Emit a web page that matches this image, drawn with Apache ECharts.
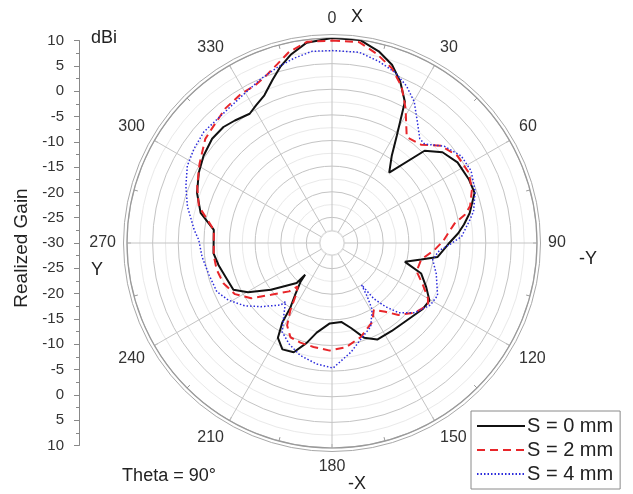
<!DOCTYPE html>
<html>
<head>
<meta charset="utf-8">
<script src="https://cdn.jsdelivr.net/npm/echarts@6/dist/echarts.min.js"></script>
<style>
html,body{margin:0;padding:0;background:#fff}
#main{width:633px;height:494px}
</style>
</head>
<body>
<div id="main"></div>
<script>
// 角度刻度 / 半径刻度
var angleLabels = [0, 30, 60, 90, 120, 150, 180, 210, 240, 270, 300, 330];
var gainMin = -30, gainMax = 10;

// S = 0 mm
var s0Angle = [0, 7.8, 13.7, 18.6, 22.9, 27.3, 31.1, 34.4, 39.1, 45.1, 50.6, 57.3, 65, 70.6, 77.7, 82, 85.6, 90.5, 97.5, 100.5, 104.5, 108.9, 115.1, 120.6, 126, 132.9, 145.8, 154.9, 161.3, 167.4, 173.3, 181.6, 189.7, 194.2, 199.3, 205, 209.7, 212, 212.8, 215.7, 219, 220.3, 221.5, 232.6, 239.6, 244.6, 251.3, 258.9, 265, 271.5, 276.3, 282.9, 290.4, 297.9, 304.2, 311, 316.9, 321.6, 327.5, 331.2, 335.4, 340, 343.8, 347.6, 352.8, 360];
var s0Gain = [10, 10, 8.5, 6.7, 4.2, 1.0, -5.5, -9.35, -12.3, -4.5, -2.1, -0.9, -0.55, -0.5, -2.5, -4.0, -5.3, -7.3, -9.2, -12.3, -15.3, -11.6, -9.7, -7.9, -8.1, -8.8, -9.25, -9.2, -10.5, -13.0, -14.5, -14.3, -12.25, -9.9, -7.4, -7.1, -8.7, -11.7, -15.0, -17.8, -20.2, -21.9, -19.6, -15.0, -11.0, -8.7, -8.3, -7.45, -6.8, -6.9, -6.8, -3.7, -1.9, -0.6, 0.3, 1.0, 1.0, 0.5, -0.1, 0.7, 1.7, 3.9, 5.9, 7.6, 9.4, 10];

// S = 2 mm
var s2Angle = [0, 7.7, 13.4, 18.9, 24, 28.7, 35.2, 42.3, 48.2, 55.2, 62.7, 69, 75, 78, 81, 85, 89, 94, 100.5, 108.5, 114.7, 119.9, 122.9, 130.1, 137.3, 142.2, 148, 153, 163, 172.3, 181.2, 190.1, 197.6, 203.8, 208.6, 211.8, 214.3, 218.3, 221.5, 229.7, 235.6, 242.2, 249.7, 257, 264.1, 276.3, 285.4, 292.9, 300.8, 309.4, 314.8, 321.5, 328.8, 333.8, 338.5, 343, 347.3, 352.9, 360];
var s2Gain = [9.5, 9.55, 7.9, 6.05, 3.4, -0.1, -4.7, -4.1, -1.5, -0.2, 0.0, -0.75, -2.1, -3.5, -5.8, -7.2, -8.3, -10.0, -12.3, -12.6, -10.5, -8.4, -7.7, -8.9, -10.9, -13.0, -14.6, -12.7, -10.8, -9.5, -9.0, -9.4, -9.6, -9.9, -11.7, -14.6, -17.3, -19.2, -17.4, -14.4, -10.9, -8.6, -7.4, -6.9, -6.8, -6.8, -3.05, -1.45, 0.1, 2.0, 2.5, 3.5, 4.1, 4.2, 5.1, 6.5, 8.2, 9.55, 9.5];

// S = 4 mm
var s4Angle = [0, 8.1, 14.4, 20.3, 25.4, 30.2, 35.2, 40.1, 43.1, 49.2, 56, 62.6, 70.1, 77.4, 80.4, 87.2, 90.5, 94, 99.3, 106.4, 116.4, 122.2, 130.1, 136.3, 140, 143.1, 144.8, 146.6, 149, 155.2, 162.1, 170.1, 179.5, 187.2, 195.8, 203, 209.2, 214.3, 218.4, 219.6, 228.1, 234.3, 241.2, 247.1, 255.6, 263.9, 271.3, 275.4, 284.2, 291.3, 298.1, 304.3, 310.9, 320, 329.7, 336.6, 342.8, 348.4, 354, 360];
var s4Gain = [7.55, 7.6, 6.6, 5.5, 3.9, 1.9, -1.1, -3.4, -3.55, -1.1, 0.4, 0.57, -0.3, -1.7, -2.7, -4.7, -6.9, -9.0, -10.1, -8.8, -7.0, -7.3, -8.9, -11.2, -13.8, -16.4, -20.0, -17.5, -14.8, -12.0, -10.7, -8.4, -5.6, -6.2, -7.2, -8.6, -10.1, -13.4, -15.4, -14.3, -11.4, -9.0, -6.9, -5.6, -5.2, -4.5, -4.0, -3.0, -0.9, 0.6, 2.0, 2.6, 3.1, 3.0, 3.8, 4.9, 5.9, 6.8, 7.6, 7.55];

var seriesNames = ['S = 0 mm', 'S = 2 mm', 'S = 4 mm'];

function pairs(angles, gains) {
    return angles.map(function (a, i) { return [gains[i], a]; });
}

var FONT = 'Liberation Sans, Arial, sans-serif';
var cx = 332, cy = 243, R = 205;

var myChart = echarts.init(document.getElementById('main'));
var option = {
    animation: false,
    backgroundColor: '#fff',
    textStyle: { fontFamily: FONT },
    polar: { center: [cx, cy], radius: R },
    angleAxis: {
        type: 'value', min: 0, max: 360, interval: 30,
        startAngle: 90, clockwise: true, z: 0,
        axisLine: { lineStyle: { color: '#9a9a9a', width: 1.2 } },
        axisTick: { show: true, inside: true, length: 4, lineStyle: { color: '#9a9a9a' } },
        minorTick: { show: true, splitNumber: 2, length: 4, lineStyle: { color: '#9a9a9a' } },
        axisLabel: {
            margin: 11, fontSize: 16, color: '#333', fontFamily: FONT,
            formatter: function (v) { return v === 360 ? '' : String(v); }
        },
        splitLine: { lineStyle: { color: '#c4c4c4', width: 1 } }
    },
    radiusAxis: {
        type: 'value', min: gainMin, max: gainMax, interval: 5, z: 0,
        axisLine: { show: false }, axisTick: { show: false }, axisLabel: { show: false },
        splitLine: { lineStyle: { color: '#c4c4c4', width: 1 } },
        minorTick: { show: false, splitNumber: 2 },
        minorSplitLine: { show: true, lineStyle: { color: '#e9e9e9', width: 1 } }
    },
    // 左侧竖向刻度轴（镜像）
    grid: { left: 79, top: 40.5, width: 1, height: 405 },
    xAxis: { type: 'value', show: false, min: 0, max: 1 },
    yAxis: {
        type: 'value', min: -40, max: 40, interval: 5, position: 'left',
        axisLine: { show: true, lineStyle: { color: '#888' } },
        axisTick: { show: true, length: 5, lineStyle: { color: '#888' } },
        minorTick: { show: true, splitNumber: 2, length: 3, lineStyle: { color: '#888' } },
        splitLine: { show: false },
        axisLabel: {
            margin: 15, fontSize: 15, color: '#333', fontFamily: FONT,
            formatter: function (v) { return String(Math.abs(v) + gainMin); }
        }
    },
    legend: {
        data: seriesNames, orient: 'vertical', left: 471, top: 411,
        backgroundColor: '#fff', borderColor: '#8a8a8a', borderWidth: 1,
        padding: [5, 7, 5, 5], itemGap: 4, itemWidth: 48, itemHeight: 18,
        itemStyle: { opacity: 0 },
        textStyle: { fontSize: 20, color: '#222', fontFamily: FONT, padding: [0, 0, 0, -3] }
    },
    graphic: [
        { type: 'circle', z: 1, shape: { cx: cx, cy: cy, r: R + 3.5 }, style: { fill: 'none', stroke: '#a8a8a8', lineWidth: 1 } },
        { type: 'circle', z: 1, shape: { cx: cx, cy: cy, r: 12 }, style: { fill: '#fff', stroke: '#d8d8d8', lineWidth: 1 } },
        { type: 'text', z: 10, x: 104, y: 38, style: { text: 'dBi', font: '18px ' + FONT, fill: '#222', textAlign: 'center', textVerticalAlign: 'middle' } },
        { type: 'text', z: 10, x: 22, y: 248, rotation: Math.PI / 2, style: { text: 'Realized Gain', font: '19px ' + FONT, fill: '#222', textAlign: 'center', textVerticalAlign: 'middle' } },
        { type: 'text', z: 10, x: 357, y: 17, style: { text: 'X', font: '18px ' + FONT, fill: '#222', textAlign: 'center', textVerticalAlign: 'middle' } },
        { type: 'text', z: 10, x: 357, y: 484, style: { text: '-X', font: '18px ' + FONT, fill: '#222', textAlign: 'center', textVerticalAlign: 'middle' } },
        { type: 'text', z: 10, x: 588, y: 259, style: { text: '-Y', font: '18px ' + FONT, fill: '#222', textAlign: 'center', textVerticalAlign: 'middle' } },
        { type: 'text', z: 10, x: 97, y: 270, style: { text: 'Y', font: '18px ' + FONT, fill: '#222', textAlign: 'center', textVerticalAlign: 'middle' } },
        { type: 'text', z: 10, x: 169, y: 476, style: { text: 'Theta = 90°', font: '18px ' + FONT, fill: '#222', textAlign: 'center', textVerticalAlign: 'middle' } }
    ],
    series: [
        {
            name: seriesNames[0], type: 'line', coordinateSystem: 'polar', z: 5,
            symbol: 'none', data: pairs(s0Angle, s0Gain),
            lineStyle: { color: '#111', width: 2, type: 'solid' }, itemStyle: { color: '#111' }
        },
        {
            name: seriesNames[1], type: 'line', coordinateSystem: 'polar', z: 5,
            symbol: 'none', data: pairs(s2Angle, s2Gain),
            lineStyle: { color: '#e8262a', width: 2, type: [8, 5] }, itemStyle: { color: '#e8262a' }
        },
        {
            name: seriesNames[2], type: 'line', coordinateSystem: 'polar', z: 5,
            symbol: 'none', data: pairs(s4Angle, s4Gain),
            lineStyle: { color: '#2b2bdc', width: 1.5, type: [1.5, 2] }, itemStyle: { color: '#2b2bdc' }
        }
    ]
};
myChart.setOption(option);
</script>
</body>
</html>
